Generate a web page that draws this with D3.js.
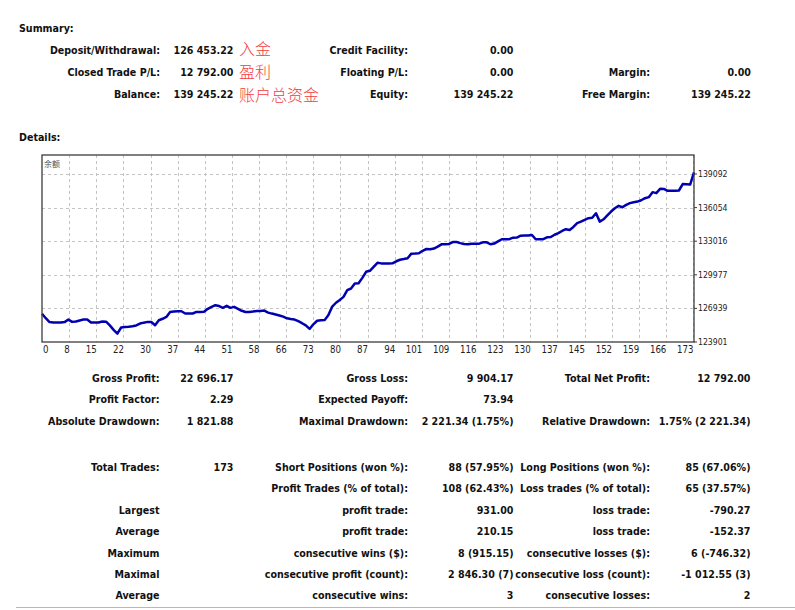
<!DOCTYPE html>
<html>
<head>
<meta charset="utf-8">
<script src="https://cdn.jsdelivr.net/npm/d3@7"></script>
<style>
    html, body { margin: 0; padding: 0; background: #fff; }
    svg { display: block; }
    .t { font-family: "DejaVu Sans Condensed", "DejaVu Sans", sans-serif; font-stretch: condensed; font-weight: bold; font-size: 10.6px; fill: #111; }
    .ax { font-family: "Liberation Sans Narrow", "DejaVu Sans Condensed", sans-serif; font-stretch: condensed; font-size: 9.6px; fill: #222; }
    .ay { font-size: 8.6px; }
    .zh { font-family: "Noto Sans CJK SC", sans-serif; font-weight: 300; font-size: 16px; fill: #f23c3c; }
</style>
</head>
<body>
<div id="report"></div>
<script>
// balance after each trade (0 = deposit)
const balance = [
    126453, 126050, 125700, 125660, 125660, 125660, 125700, 125930, 125720, 125760,
    125850, 125930, 125930, 125660, 125660, 125670, 125750, 125740, 125400, 125000,
    124660, 125210, 125260, 125290, 125330, 125400, 125570, 125650, 125720, 125710,
    125420, 125870, 126000, 126170, 126620, 126660, 126690, 126680, 126480, 126470,
    126480, 126620, 126610, 126640, 126900, 127080, 127230, 127150, 126990, 127170,
    126990, 127080, 126900, 126720, 126620, 126620, 126650, 126710, 126710, 126740,
    126560, 126470, 126390, 126300, 126200, 126040, 125980, 125930, 125780, 125600,
    125400, 125080, 125500, 125820, 125860, 125880, 126350, 127100, 127450, 127700,
    127980, 128590, 128740, 129200, 129210, 129700, 130250, 130340, 130700, 131060,
    131010, 131010, 131000, 131020, 131200, 131340, 131400, 131470, 131890, 131900,
    131920, 132150, 132310, 132280, 132350, 132520, 132730, 132750, 132770, 132940,
    132940, 132840, 132760, 132730, 132780, 132780, 132790, 132915, 132915, 132740,
    132800, 133000, 133190, 133190, 133200, 133335, 133350, 133515, 133520, 133530,
    133580, 133190, 133190, 133200, 133370, 133390, 133600, 133740, 133940, 134100,
    134030, 134300, 134650, 134780, 134950, 135100, 135130, 135545, 134785, 135000,
    135350, 135700, 136000, 136210, 136090, 136300, 136460, 136545, 136600, 136720,
    136905, 137000, 137450, 137360, 137750, 137740, 137570, 137570, 137570, 137600,
    138180, 138170, 138150, 139245
];
const xTickLabels = ['0', '8', '15', '22', '30', '37', '44', '51', '58', '66', '73', '80', '87',
    '94', '101', '109', '116', '123', '130', '137', '145', '152', '159', '166', '173'];
const yTickValues = [123901, 126939, 129977, 133016, 136054, 139092];
const chartTitle = '余额';

const summaryCol1 = [['Deposit/Withdrawal:', '126 453.22'], ['Closed Trade P/L:', '12 792.00'], ['Balance:', '139 245.22']];
const summaryCol2 = [['Credit Facility:', '0.00'], ['Floating P/L:', '0.00'], ['Equity:', '139 245.22']];
const summaryCol3 = [['', ''], ['Margin:', '0.00'], ['Free Margin:', '139 245.22']];
const summaryNotes = ['入金', '盈利', '账户总资金'];

const detailsCol1 = [['Gross Profit:', '22 696.17'], ['Profit Factor:', '2.29'], ['Absolute Drawdown:', '1 821.88']];
const detailsCol2 = [['Gross Loss:', '9 904.17'], ['Expected Payoff:', '73.94'], ['Maximal Drawdown:', '2 221.34 (1.75%)']];
const detailsCol3 = [['Total Net Profit:', '12 792.00'], ['', ''], ['Relative Drawdown:', '1.75% (2 221.34)']];

const tradesCol1 = [['Total Trades:', '173'], ['', ''], ['Largest', ''], ['Average', ''], ['Maximum', ''], ['Maximal', ''], ['Average', '']];
const tradesCol2 = [
    ['Short Positions (won %):', '88 (57.95%)'], ['Profit Trades (% of total):', '108 (62.43%)'],
    ['profit trade:', '931.00'], ['profit trade:', '210.15'], ['consecutive wins ($):', '8 (915.15)'],
    ['consecutive profit (count):', '2 846.30 (7)'], ['consecutive wins:', '3']];
const tradesCol3 = [
    ['Long Positions (won %):', '85 (67.06%)'], ['Loss trades (% of total):', '65 (37.57%)'],
    ['loss trade:', '-790.27'], ['loss trade:', '-152.37'], ['consecutive losses ($):', '6 (-746.32)'],
    ['consecutive loss (count):', '-1 012.55 (3)'], ['consecutive losses:', '2']];

const width = 795, height = 610;
const frame = { left: 42, right: 694, top: 155, bottom: 342 };

const svg = d3.select('#report').append('svg')
    .attr('width', width)
    .attr('height', height);

// Label / value block, both right aligned
function drawBlock(rows, labelX, valueX, y0, step) {
    const g = svg.append('g');
    rows.forEach(([label, value], i) => {
        const y = y0 + i * step;
        g.append('text').attr('class', 't').attr('x', labelX).attr('y', y)
            .attr('text-anchor', 'end').text(label);
        g.append('text').attr('class', 't').attr('x', valueX).attr('y', y)
            .attr('text-anchor', 'end').text(value);
    });
}

// Summary
svg.append('text').attr('class', 't').attr('x', 19).attr('y', 31.5).text('Summary:');
drawBlock(summaryCol1, 160, 233.5, 53.5, 22);
drawBlock(summaryCol2, 408, 513.5, 53.5, 22);
drawBlock(summaryCol3, 650, 751, 53.5, 22);
summaryNotes.forEach((note, i) => {
    svg.append('text').attr('class', 'zh')
        .attr('x', 239)
        .attr('y', 54.5 + i * 23.3)
        .text(note);
});

// Details
svg.append('text').attr('class', 't').attr('x', 19).attr('y', 141).text('Details:');

const x = d3.scaleLinear()
    .domain([0, balance.length - 1])
    .range([frame.left, frame.right]);

const y = d3.scaleLinear()
    .domain([yTickValues[0], yTickValues[yTickValues.length - 1]])
    .range([frame.bottom, 174]);

const xGrid = d3.scalePoint()
    .domain(xTickLabels)
    .range([frame.left, frame.right - 1]);

// grid
svg.append('g')
    .selectAll('line')
    .data(xTickLabels.slice(1))
    .enter()
    .append('line')
    .attr('x1', d => Math.round(xGrid(d)) + 0.5)
    .attr('x2', d => Math.round(xGrid(d)) + 0.5)
    .attr('y1', frame.top)
    .attr('y2', frame.bottom)
    .attr('stroke', '#c4c4c4')
    .attr('stroke-dasharray', '3,3');

svg.append('g')
    .selectAll('line')
    .data(yTickValues.slice(1))
    .enter()
    .append('line')
    .attr('x1', frame.left)
    .attr('x2', frame.right)
    .attr('y1', d => Math.round(y(d)) + 0.5)
    .attr('y2', d => Math.round(y(d)) + 0.5)
    .attr('stroke', '#c4c4c4')
    .attr('stroke-dasharray', '3,3');

// balance line
svg.append('path')
    .datum(balance)
    .attr('fill', 'none')
    .attr('stroke', '#0000b0')
    .attr('stroke-width', 2.5)
    .attr('stroke-linejoin', 'round')
    .attr('d', d3.line().x((d, i) => x(i)).y(d => y(d)));

// frame
svg.append('rect')
    .attr('x', frame.left)
    .attr('y', frame.top)
    .attr('width', frame.right - frame.left)
    .attr('height', frame.bottom - frame.top)
    .attr('fill', 'none')
    .attr('stroke', '#3c3c3c')
    .attr('stroke-width', 1.3);

svg.append('text')
    .attr('x', frame.left + 2)
    .attr('y', 167)
    .style('font-family', '"Noto Sans CJK SC", sans-serif')
    .style('font-size', '8px')
    .style('fill', '#555')
    .text(chartTitle);

// x labels
svg.append('g')
    .selectAll('text')
    .data(xTickLabels)
    .enter()
    .append('text')
    .attr('class', 'ax')
    .attr('x', (d, i) => i === 0 ? xGrid(d) + 1 : xGrid(d) + 0.5)
    .attr('y', 352.5)
    .attr('text-anchor', (d, i) => i === 0 ? 'start' : 'end')
    .text(d => d);

// y labels
const yAxis = svg.append('g');
yAxis.selectAll('line')
    .data(yTickValues)
    .enter()
    .append('line')
    .attr('x1', frame.right)
    .attr('x2', frame.right + 3)
    .attr('y1', d => y(d))
    .attr('y2', d => y(d))
    .attr('stroke', '#3c3c3c');
yAxis.selectAll('text')
    .data(yTickValues)
    .enter()
    .append('text')
    .attr('class', 'ax ay')
    .attr('x', frame.right + 4)
    .attr('y', d => y(d))
    .attr('dy', '0.35em')
    .text(d => d);

// Stats
drawBlock(detailsCol1, 159.5, 233.5, 381.5, 21.7);
drawBlock(detailsCol2, 408, 513.5, 381.5, 21.7);
drawBlock(detailsCol3, 650, 750.5, 381.5, 21.7);

drawBlock(tradesCol1, 159.5, 233.5, 471, 21.4);
drawBlock(tradesCol2, 408, 513.5, 471, 21.4);
drawBlock(tradesCol3, 650, 750.5, 471, 21.4);

svg.append('line')
    .attr('x1', 16)
    .attr('x2', width)
    .attr('y1', 607.5)
    .attr('y2', 607.5)
    .attr('stroke', '#b8b8b8');
</script>
</body>
</html>
